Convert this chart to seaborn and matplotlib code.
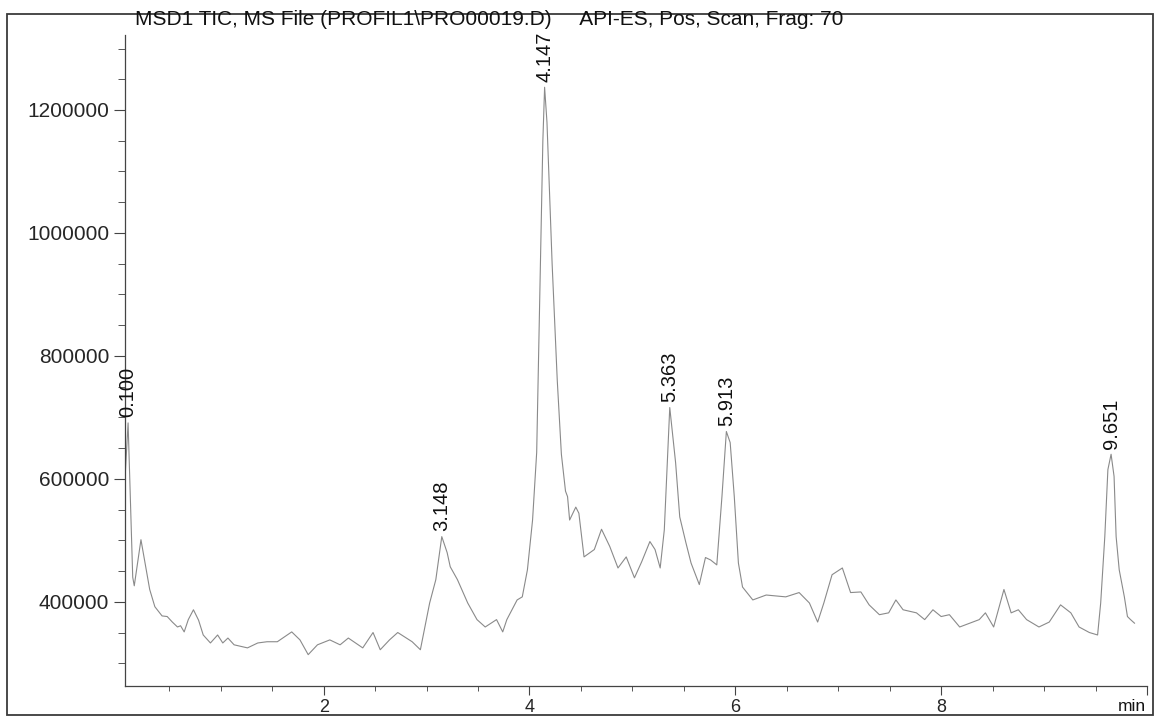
import numpy as np
import pandas as pd
import matplotlib
matplotlib.use("Agg")
import matplotlib.pyplot as plt
from matplotlib.patches import Rectangle
from matplotlib.ticker import MultipleLocator
import seaborn as sns

# Total ion chromatogram: retention time (min) and abundance
time_min = [0.07, 0.10, 0.145, 0.16, 0.225, 0.31, 0.36, 0.43, 0.48, 0.53, 0.58,
            0.61, 0.645, 0.685, 0.735, 0.785, 0.83, 0.90, 0.97, 1.02, 1.07, 1.13,
            1.26, 1.36, 1.45, 1.55, 1.69, 1.77, 1.85, 1.94, 2.06, 2.16, 2.24, 2.38,
            2.48, 2.55, 2.64, 2.72, 2.86, 2.94, 3.03, 3.09, 3.148, 3.20, 3.23, 3.30,
            3.40, 3.49, 3.57, 3.68, 3.74, 3.78, 3.88, 3.93, 3.98, 4.03, 4.07, 4.10,
            4.13, 4.147, 4.17, 4.22, 4.27, 4.31, 4.35, 4.37, 4.39, 4.45, 4.48, 4.53,
            4.63, 4.70, 4.78, 4.86, 4.94, 5.02, 5.09, 5.17, 5.22, 5.27, 5.31, 5.363,
            5.42, 5.46, 5.52, 5.57, 5.65, 5.71, 5.76, 5.82, 5.87, 5.913, 5.95, 5.99,
            6.03, 6.07, 6.17, 6.30, 6.49, 6.62, 6.72, 6.80, 6.86, 6.94, 7.04, 7.12,
            7.22, 7.30, 7.40, 7.49, 7.56, 7.63, 7.76, 7.84, 7.92, 8.00, 8.08, 8.18,
            8.37, 8.43, 8.51, 8.61, 8.68, 8.75, 8.83, 8.95, 9.05, 9.16, 9.26, 9.34,
            9.44, 9.52, 9.55, 9.59, 9.62, 9.651, 9.68, 9.70, 9.73, 9.78, 9.81, 9.84,
            9.88]
abundance = [600000, 691000, 440000, 426000, 501000, 420000, 392000, 377000, 376000,
             367000, 359000, 361000, 351000, 371000, 387000, 370000, 346000, 333000,
             346000, 333000, 341000, 330000, 325000, 333000, 335000, 335000, 351000,
             338000, 314000, 330000, 338000, 330000, 341000, 325000, 350000, 322000,
             338000, 350000, 335000, 322000, 398000, 436000, 506000, 480000, 457000,
             436000, 398000, 371000, 359000, 371000, 351000, 371000, 403000, 408000,
             452000, 533000, 643000, 900000, 1150000, 1237000, 1180000, 950000,
             760000, 640000, 580000, 571000, 533000, 554000, 544000, 473000, 485000,
             518000, 490000, 455000, 473000, 439000, 465000, 498000, 485000, 455000,
             517000, 716000, 626000, 538000, 496000, 463000, 428000, 472000, 468000,
             460000, 571000, 677000, 659000, 571000, 463000, 424000, 403000, 411000,
             408000, 415000, 398000, 367000, 398000, 444000, 455000, 415000, 416000,
             395000, 379000, 382000, 403000, 387000, 382000, 371000, 387000, 376000,
             379000, 359000, 371000, 382000, 359000, 420000, 382000, 387000, 371000,
             359000, 367000, 395000, 382000, 359000, 350000, 346000, 398000, 506000,
             615000, 640000, 604000, 506000, 452000, 408000, 376000, 371000, 365000]

# Integrated peaks (retention time labels)
peak_times = [0.100, 3.148, 4.147, 5.363, 5.913, 9.651]
peak_labels = ["0.100", "3.148", "4.147", "5.363", "5.913", "9.651"]

x_ticks = [2, 4, 6, 8, 10]
x_tick_labels = ["2", "4", "6", "8", ""]
y_ticks = [400000, 600000, 800000, 1000000, 1200000]
y_tick_labels = ["400000", "600000", "800000", "1000000", "1200000"]

title_text = "MSD1 TIC, MS File (PROFIL1\\PRO00019.D)     API-ES, Pos, Scan, Frag: 70"

sns.set_style("white")
plt.rcParams["font.family"] = ["Liberation Sans", "DejaVu Sans"]

W, H = 1155, 717
fig = plt.figure(figsize=(W / 100, H / 100), dpi=100)
ax = fig.add_axes([125 / W, 1 - 686 / H, 1022 / W, 651 / H])

df = pd.DataFrame({"time": time_min, "abundance": abundance})
sns.lineplot(data=df, x="time", y="abundance", ax=ax, color="#8a8a8a",
             lw=0.8, sort=False, estimator=None)

ax.set_xlim(0.07, 10.0)
ax.set_ylim(263000, 1322000)
ax.set_xlabel("")
ax.set_ylabel("")

ax.set_xticks(x_ticks)
ax.set_xticklabels(x_tick_labels)
ax.xaxis.set_minor_locator(MultipleLocator(0.5))
ax.set_yticks(y_ticks)
ax.set_yticklabels(y_tick_labels)
ax.yaxis.set_minor_locator(MultipleLocator(50000))

for side in ("top", "right"):
    ax.spines[side].set_visible(False)
for side in ("left", "bottom"):
    ax.spines[side].set_color("#444444")
    ax.spines[side].set_linewidth(0.9)

ax.tick_params(axis="x", which="major", direction="out", length=6.5, width=0.8,
               color="#444444", labelsize=13, pad=2.5, bottom=True)
ax.tick_params(axis="x", which="minor", direction="out", length=3.5, width=0.7,
               color="#555555", bottom=True)
ax.tick_params(axis="y", which="major", direction="out", length=8, width=0.8,
               color="#444444", labelsize=15, pad=3.5, left=True)
ax.tick_params(axis="y", which="minor", direction="out", length=5, width=0.7,
               color="#555555", left=True)

# Retention time labels above each integrated peak
peak_vals = np.interp(peak_times, time_min, abundance)
for t, v, lbl in zip(peak_times, peak_vals, peak_labels):
    ann = ax.annotate(lbl, xy=(t, v), xytext=(0, 4), textcoords="offset points",
                      rotation=90, ha="center", va="bottom", fontsize=14.5,
                      color="#111111")
    ann.set_clip_on(True)

fig.text(135 / W, 1 - 25 / H, title_text, ha="left", va="baseline",
         fontsize=15, color="#111111")
fig.text(1146 / W, 1 - 711 / H, "min", ha="right", va="baseline",
         fontsize=12.5, color="#111111")

# Outer report frame
fig.patches.append(Rectangle((7 / W, 2 / H), 1146 / W, 701 / H,
                             transform=fig.transFigure, fill=False,
                             lw=1.3, ec="#3a3a3a"))

fig.savefig("out.png", dpi=100)
